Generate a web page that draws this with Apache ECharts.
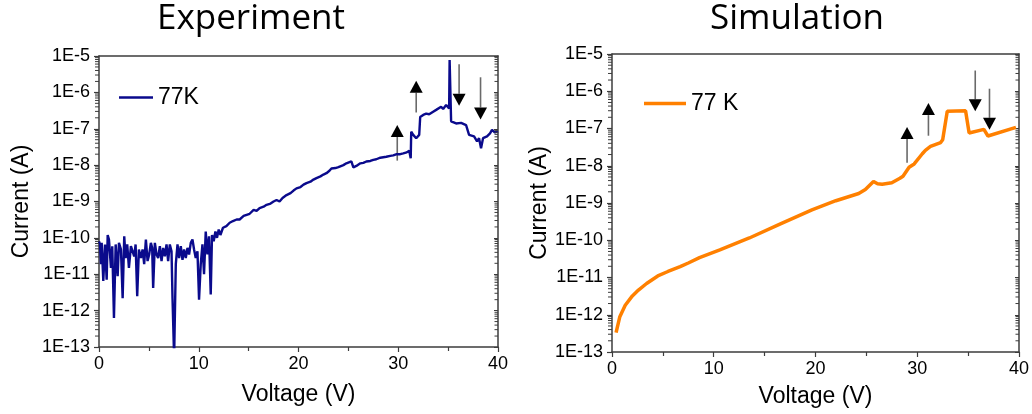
<!DOCTYPE html>
<html>
<head>
<meta charset="utf-8">
<script src="https://cdn.jsdelivr.net/npm/echarts@6/dist/echarts.min.js"></script>
<style>
html,body{margin:0;padding:0;background:#fff;}
#main{width:1032px;height:414px;}
</style>
</head>
<body>
<div id="main"></div>
<script>
// ---- Data ----
const titles = ['Experiment', 'Simulation'];
const xTicks = [0, 10, 20, 30, 40];
const expName = '77K';
const simName = '77 K';

const expV = [0.0,0.1,0.2,0.27,0.43,0.6,0.77,0.87,1.0,1.2,1.33,1.5,1.67,1.87,2.0,2.2,2.37,2.53,2.67,2.83,
  3.0,3.2,3.37,3.53,3.67,3.83,4.0,4.2,4.37,4.53,4.7,4.87,5.03,5.2,5.33,5.43,5.6,5.77,5.93,6.1,
  6.27,6.43,6.6,6.77,6.93,7.1,7.27,7.37,7.53,7.7,7.87,8.03,8.2,8.37,8.53,8.7,8.87,9.03,9.2,9.37,
  9.53,9.7,9.87,10.03,10.2,10.37,10.53,10.7,10.87,11.03,11.2,11.33,11.5,11.67,11.83,12.0,12.17,12.43,12.77,13.1,
  13.43,13.8,14.1,14.5,14.8,15.1,15.5,15.8,16.1,16.5,16.8,17.2,17.5,17.8,18.1,18.4,18.8,19.2,19.5,19.8,
  20.2,20.5,20.8,21.2,21.5,21.8,22.2,22.5,22.8,23.1,23.3,23.7,24.0,24.2,24.5,24.8,25.0,25.3,25.5,25.8,
  26.2,26.5,26.8,27.2,27.5,27.8,28.2,28.5,28.8,29.2,29.5,29.85,30.2,30.5,30.85,31.1,31.25,31.3,31.5,31.8,
  32.1,32.2,32.5,32.8,33.1,33.5,33.8,34.0,34.3,34.5,34.7,34.8,35.1,35.15,35.25,35.3,35.8,36.3,36.8,37.1,
  37.3,37.6,37.9,38.1,38.3,38.5,38.9,39.2,39.4,39.7,40.0];
const expI = [8e-11,6.6e-11,1.9e-11,7.3e-11,6.5e-12,6.6e-11,7.1e-12,1.2e-10,9e-11,1.5e-11,5.9e-11,6.3e-13,6.6e-11,8.8e-12,7.3e-11,4.8e-11,2.2e-12,1.1e-10,2.8e-11,6.6e-11,
  1.5e-11,5.9e-11,6.6e-11,3.1e-11,6.6e-11,2.5e-12,4.8e-11,2.8e-11,4.8e-11,1.9e-11,9e-11,2.3e-11,3.5e-11,7.3e-11,5.3e-11,4.2e-12,7.3e-11,3.5e-11,2.8e-11,5.9e-11,
  2.3e-11,5.3e-11,3.1e-11,6.6e-11,2.3e-11,6.6e-11,4.3e-11,2.2e-12,5e-14,1.9e-11,6.6e-11,2.8e-11,5.9e-11,2.5e-11,4.8e-11,2.8e-11,5.3e-11,3.5e-11,7.3e-11,9e-11,
  4.8e-11,2.8e-11,4.3e-11,2e-12,1.9e-11,6.6e-11,1e-11,1.5e-10,3.5e-11,1.1e-10,2.8e-12,1.2e-10,8.1e-11,1.5e-10,1e-10,1.7e-10,1.2e-10,1.9e-10,2.1e-10,2.6e-10,
  2.9e-10,3.2e-10,3.2e-10,4.0e-10,4.3e-10,4.6e-10,5.9e-10,5.5e-10,6.6e-10,7.2e-10,8.1e-10,8.8e-10,1.0e-9,1.1e-9,1.0e-9,1.25e-9,1.5e-9,1.7e-9,2.0e-9,2.3e-9,
  2.5e-9,2.9e-9,3.2e-9,3.5e-9,4.0e-9,4.4e-9,4.9e-9,5.5e-9,6.0e-9,7.0e-9,8.1e-9,8.3e-9,8.8e-9,9.1e-9,1.0e-8,1.12e-8,1.1e-8,1.26e-8,8.7e-9,9.5e-9,
  1.12e-8,1.15e-8,1.26e-8,1.3e-8,1.4e-8,1.45e-8,1.6e-8,1.65e-8,1.7e-8,1.8e-8,1.85e-8,2.0e-8,2.0e-8,2.1e-8,2.24e-8,2.5e-8,1.55e-8,8.3e-8,6.8e-8,5.5e-8,
  6.8e-8,2.1e-7,2.4e-7,2.6e-7,2.5e-7,2.95e-7,3.3e-7,3.6e-7,4.0e-7,3.5e-7,3.2e-7,4.5e-7,3.6e-7,7.8e-6,7.8e-6,1.6e-7,1.4e-7,1.45e-7,1.26e-7,6.8e-8,
  7.5e-8,6.2e-8,4.5e-8,5.5e-8,2.9e-8,5.5e-8,6.2e-8,7.5e-8,9.3e-8,7.9e-8,8.5e-8];

const simV = [0.4,0.77,1.3,2.0,2.6,3.4,4.5,5.5,6.7,7.5,8.6,10.6,13.5,16.5,19.65,22.0,24.25,24.9,25.7,26.1,
  26.55,27.5,28.3,28.6,29.2,29.7,30.5,30.8,30.95,31.3,32.3,32.5,32.95,34.75,35.1,36.55,36.95,39.7];
const simI = [3.3e-13,8.9e-13,1.8e-12,3.2e-12,4.6e-12,6.9e-12,1.1e-11,1.45e-11,1.95e-11,2.45e-11,3.4e-11,5.5e-11,1.15e-10,2.7e-10,6.5e-10,1.15e-9,1.8e-9,2.3e-9,3.8e-9,3.3e-9,
  3.2e-9,3.5e-9,4.6e-9,5.2e-9,9.1e-9,1.12e-8,2.1e-8,2.6e-8,2.4e-8,3.3e-8,4.2e-8,5.0e-8,2.9e-7,3.0e-7,7.6e-8,9.5e-8,6.3e-8,1.07e-7];

// arrows: [voltage, tail current, tip current]
const expArrows = [[29.9, 1.33e-8, 1.27e-7], [31.8, 2.8e-7, 2.1e-6], [36.1, 5.9e-6, 4.3e-7], [38.25, 2.6e-6, 1.8e-7]];
const simArrows = [[29.0, 1.2e-8, 1.1e-7], [31.1, 6.4e-8, 4.8e-7], [35.7, 3.6e-6, 2.9e-7], [37.1, 1.17e-6, 9.2e-8]];

// log-axis minor tick positions (axis decoration)
const decades = [-13, -12, -11, -10, -9, -8, -7, -6];
const mantissas = [2, 3, 4, 5, 6, 7, 8, 9];
const minorTickValues = [];
decades.forEach(d => mantissas.forEach(m => minorTickValues.push([20, m * Math.pow(10, d)])));

// ---- Chart ----
const FONT = 'Liberation Sans, Arial, sans-serif';
const axisColor = '#3c3c3c';

function zip(a, b) { return a.map((v, i) => [v, b[i]]); }

function xAxisMain(gi, gap) {
  return {
    type: 'value', gridIndex: gi, min: xTicks[0], max: xTicks[xTicks.length - 1], interval: 10,
    name: 'Voltage (V)', nameLocation: 'middle', nameGap: gap,
    nameTextStyle: { fontFamily: FONT, fontSize: 23, color: '#000' },
    axisLine: { show: true, lineStyle: { color: axisColor, width: 1.5 } },
    axisTick: { show: true, inside: false, length: 5, lineStyle: { color: axisColor, width: 1.2 } },
    minorTick: { show: true, splitNumber: 2, length: 4, lineStyle: { color: axisColor, width: 1.2 } },
    axisLabel: { fontFamily: FONT, fontSize: 18, color: '#000', margin: 8 },
    splitLine: { show: false }
  };
}
function xAxisTop(gi) {
  return {
    type: 'value', gridIndex: gi, position: 'top', min: 0, max: 40, interval: 10,
    axisLine: { show: true, onZero: false, lineStyle: { color: axisColor, width: 1.5 } },
    axisTick: { show: false }, axisLabel: { show: false }, splitLine: { show: false }
  };
}
function yAxisMain(gi, gap) {
  return {
    type: 'log', logBase: 10, gridIndex: gi, min: 1e-13, max: 1e-5, interval: 1,
    name: 'Current (A)', nameLocation: 'middle', nameGap: gap, nameRotate: 90,
    nameTextStyle: { fontFamily: FONT, fontSize: 23, color: '#000' },
    axisLine: { show: true, lineStyle: { color: axisColor, width: 1.5 } },
    axisTick: { show: true, inside: false, length: 5, lineStyle: { color: axisColor, width: 1.2 } },
    axisLabel: { fontFamily: FONT, fontSize: 18, color: '#000', margin: 9,
      formatter: v => '1E' + Math.round(Math.log10(v)) },
    splitLine: { show: false }
  };
}
function yAxisRight(gi) {
  return {
    type: 'log', logBase: 10, gridIndex: gi, position: 'right', min: 1e-13, max: 1e-5, interval: 1,
    axisLine: { show: true, onZero: false, lineStyle: { color: axisColor, width: 1.5 } },
    axisTick: { show: true, inside: true, length: 4, lineStyle: { color: axisColor, width: 1 } },
    axisLabel: { show: false }, splitLine: { show: false }
  };
}

function arrowRender(params, api) {
  const x = api.value(0);
  const a = api.coord([x, api.value(1)]);
  const b = api.coord([x, api.value(2)]);
  const dir = b[1] < a[1] ? -1 : 1;
  const hl = 12, hw = 6.5;
  const base = b[1] - dir * hl;
  return {
    type: 'group',
    children: [
      { type: 'line', shape: { x1: a[0], y1: a[1], x2: a[0], y2: base },
        style: { stroke: '#6a6a6a', lineWidth: 1.6 } },
      { type: 'polygon', shape: { points: [[b[0], b[1]], [b[0] - hw, base], [b[0] + hw, base]] },
        style: { fill: '#000' } }
    ]
  };
}

function minorTickRender(params, api) {
  const v = api.value(1);
  const l = api.coord([xTicks[0], v]);
  const r = api.coord([xTicks[xTicks.length - 1], v]);
  return {
    type: 'group',
    children: [
      { type: 'line', shape: { x1: l[0] - 4, y1: l[1], x2: l[0], y2: l[1] },
        style: { stroke: axisColor, lineWidth: 1 } },
      { type: 'line', shape: { x1: r[0] - 3.5, y1: r[1], x2: r[0], y2: r[1] },
        style: { stroke: axisColor, lineWidth: 1 } }
    ]
  };
}

const chart = echarts.init(document.getElementById('main'), null, { renderer: 'canvas' });
chart.setOption({
  animation: false,
  backgroundColor: '#fff',
  graphic: [
    { type: 'text', x: 251, y: 2, style: { text: titles[0], font: '35px "Open Sans", sans-serif', fill: '#000', textAlign: 'center' } },
    { type: 'text', x: 797, y: 2, style: { text: titles[1], font: '35px "Open Sans", sans-serif', fill: '#000', textAlign: 'center' } }
  ],
  legend: [
    { data: [expName], left: 114, top: 81, icon: 'rect', itemWidth: 34, itemHeight: 2.5, itemGap: 7,
      textStyle: { fontFamily: FONT, fontSize: 23, color: '#000' } },
    { data: [simName], left: 639, top: 87, icon: 'rect', itemWidth: 42, itemHeight: 3.5, itemGap: 6,
      textStyle: { fontFamily: FONT, fontSize: 23, color: '#000' } }
  ],
  grid: [
    { left: 99, top: 56, width: 399, height: 291 },
    { left: 612, top: 54, width: 407, height: 298 }
  ],
  xAxis: [xAxisMain(0, 36), xAxisTop(0), xAxisMain(1, 33), xAxisTop(1)],
  yAxis: [yAxisMain(0, 66), yAxisRight(0), yAxisMain(1, 58), yAxisRight(1)],
  series: [
    { type: 'custom', xAxisIndex: 0, yAxisIndex: 0, data: minorTickValues, renderItem: minorTickRender,
      encode: { x: 0, y: 1 }, silent: true, clip: false, z: 5 },
    { type: 'custom', xAxisIndex: 2, yAxisIndex: 2, data: minorTickValues, renderItem: minorTickRender,
      encode: { x: 0, y: 1 }, silent: true, clip: false, z: 5 },
    { name: expName, type: 'line', xAxisIndex: 0, yAxisIndex: 0, data: zip(expV, expI),
      symbol: 'none', clip: true, lineStyle: { color: '#0a0a8c', width: 2.4 }, itemStyle: { color: '#0a0a8c' } },
    { name: simName, type: 'line', xAxisIndex: 2, yAxisIndex: 2, data: zip(simV, simI),
      symbol: 'none', clip: true, lineStyle: { color: '#ff8000', width: 3.5 }, itemStyle: { color: '#ff8000' } },
    { type: 'custom', xAxisIndex: 0, yAxisIndex: 0, data: expArrows, renderItem: arrowRender,
      encode: { x: 0, y: [1, 2] }, silent: true },
    { type: 'custom', xAxisIndex: 2, yAxisIndex: 2, data: simArrows, renderItem: arrowRender,
      encode: { x: 0, y: [1, 2] }, silent: true }
  ]
});
</script>
</body>
</html>
